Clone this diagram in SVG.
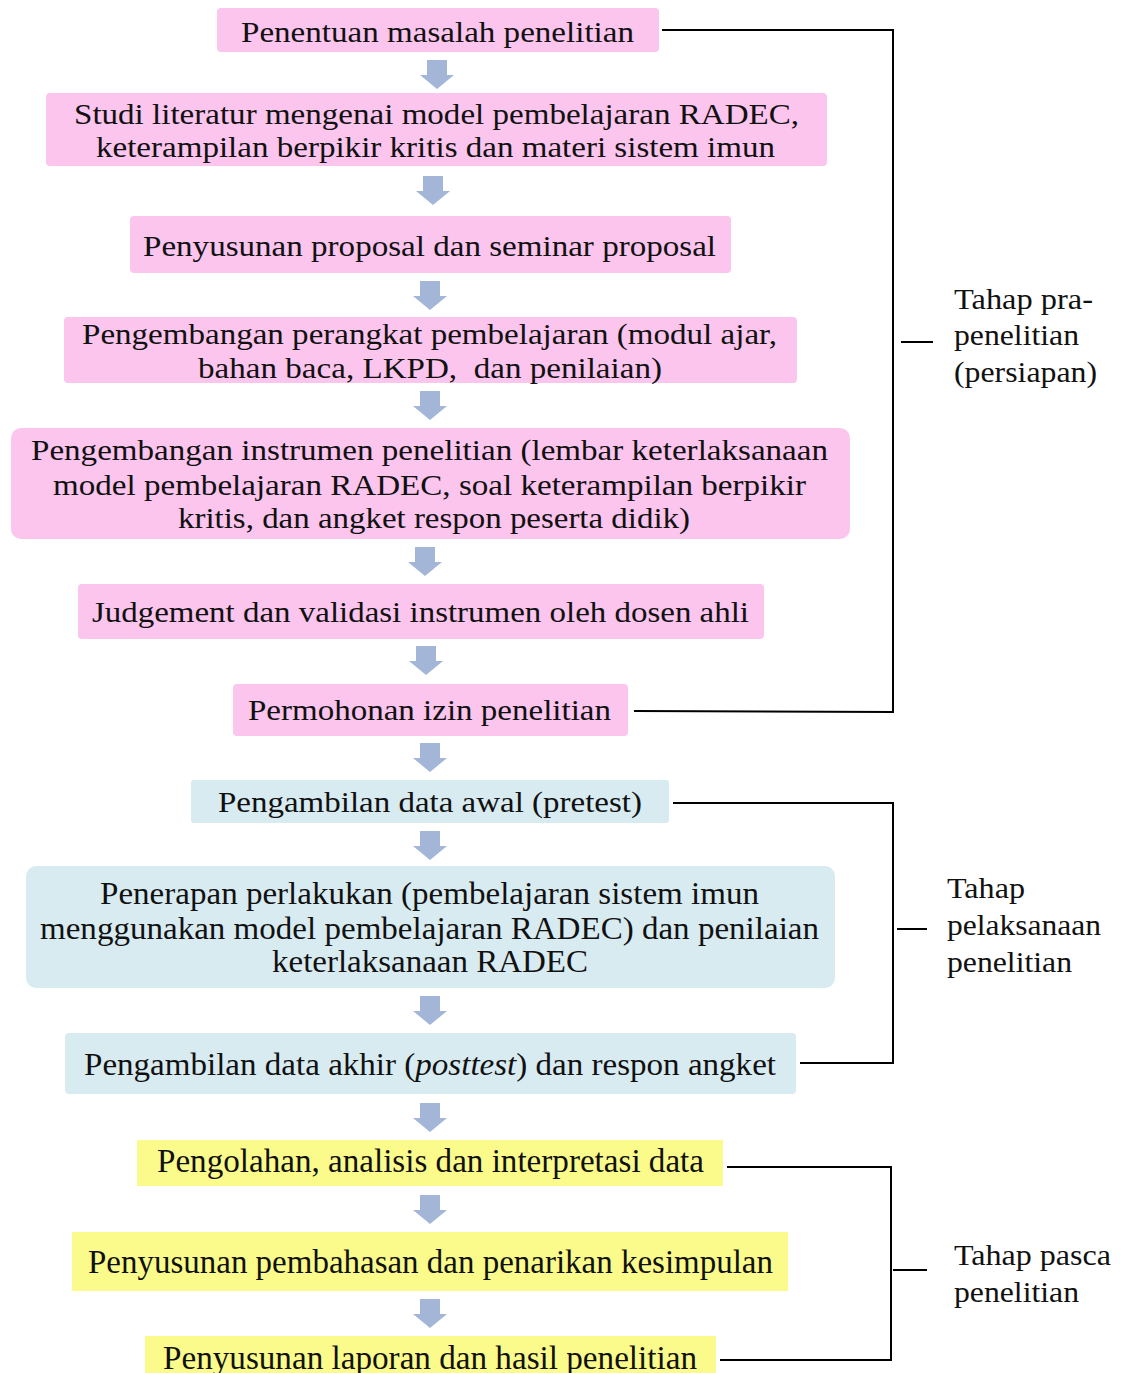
<svg xmlns="http://www.w3.org/2000/svg" width="1124" height="1373" viewBox="0 0 1124 1373">
<style>
.t{font-family:'Liberation Serif',serif;font-size:30px;fill:#111;text-anchor:middle}
.t2{font-size:32px}
.t3{font-size:33px}
.l{font-family:'Liberation Serif',serif;font-size:30px;fill:#111}
.pk{fill:#fbc5ee}
.bl{fill:#d8ebf1}
.yl{fill:#fbfb8c}
.br{fill:none;stroke:#000;stroke-width:2}
.ar{fill:#a3b6d7}
</style>
<defs>
<path id="arr" d="M-10,0 H10 V15 H17 L0,29 L-17,15 H-10 Z"/>
</defs>
<rect width="1124" height="1373" fill="#fff"/>
<g id="n1"><rect class="pk" x="217" y="8" width="442" height="44" rx="4"/><text class="t" x="437.5" y="42" textLength="393" lengthAdjust="spacingAndGlyphs">Penentuan masalah penelitian</text></g>
<g id="n2"><rect class="pk" x="46" y="93" width="781" height="73" rx="4"/><text class="t" x="436.5" y="124" textLength="725" lengthAdjust="spacingAndGlyphs">Studi literatur mengenai model pembelajaran RADEC,</text><text class="t" x="435.5" y="157" textLength="679" lengthAdjust="spacingAndGlyphs">keterampilan berpikir kritis dan materi sistem imun</text></g>
<g id="n3"><rect class="pk" x="130" y="216" width="601" height="57" rx="4"/><text class="t" x="429.5" y="256" textLength="573" lengthAdjust="spacingAndGlyphs">Penyusunan proposal dan seminar proposal</text></g>
<g id="n4"><rect class="pk" x="64" y="317" width="733" height="66" rx="4"/><text class="t" x="429.5" y="344" textLength="695" lengthAdjust="spacingAndGlyphs">Pengembangan perangkat pembelajaran (modul ajar,</text><text class="t" x="430" y="378" textLength="464" lengthAdjust="spacingAndGlyphs" xml:space="preserve">bahan baca, LKPD,  dan penilaian)</text></g>
<g id="n5"><rect class="pk" x="11" y="428" width="839" height="111" rx="10"/><text class="t" x="429.5" y="460" textLength="797" lengthAdjust="spacingAndGlyphs">Pengembangan instrumen penelitian (lembar keterlaksanaan</text><text class="t" x="429.5" y="495" textLength="753" lengthAdjust="spacingAndGlyphs">model pembelajaran RADEC, soal keterampilan berpikir</text><text class="t" x="434" y="528" textLength="512" lengthAdjust="spacingAndGlyphs">kritis, dan angket respon peserta didik)</text></g>
<g id="n6"><rect class="pk" x="78" y="584" width="686" height="55" rx="4"/><text class="t" x="420.5" y="622" textLength="657" lengthAdjust="spacingAndGlyphs">Judgement dan validasi instrumen oleh dosen ahli</text></g>
<g id="n7"><rect class="pk" x="233" y="684" width="395" height="52" rx="4"/><text class="t" x="429.5" y="720" textLength="363" lengthAdjust="spacingAndGlyphs">Permohonan izin penelitian</text></g>
<g id="n8"><rect class="bl" x="191" y="780" width="478" height="43" rx="3"/><text class="t" x="430" y="812" textLength="424" lengthAdjust="spacingAndGlyphs">Pengambilan data awal (pretest)</text></g>
<g id="n9"><rect class="bl" x="26" y="866" width="809" height="122" rx="10"/><text class="t t2" x="429.5" y="904" textLength="659" lengthAdjust="spacingAndGlyphs">Penerapan perlakukan (pembelajaran sistem imun</text><text class="t t2" x="429.5" y="939" textLength="779" lengthAdjust="spacingAndGlyphs">menggunakan model pembelajaran RADEC) dan penilaian</text><text class="t t2" x="430" y="972" textLength="316" lengthAdjust="spacingAndGlyphs">keterlaksanaan RADEC</text></g>
<g id="n10"><rect class="bl" x="65" y="1033" width="731" height="61" rx="4"/><text class="t t2" x="430" y="1075" textLength="692" lengthAdjust="spacingAndGlyphs">Pengambilan data akhir (<tspan font-style="italic">posttest</tspan>) dan respon angket</text></g>
<g id="n11"><rect class="yl" x="137" y="1140" width="586" height="46"/><text class="t t3" x="430.5" y="1172" textLength="547" lengthAdjust="spacingAndGlyphs">Pengolahan, analisis dan interpretasi data</text></g>
<g id="n12"><rect class="yl" x="72" y="1232" width="716" height="59"/><text class="t t3" x="430.5" y="1273" textLength="685" lengthAdjust="spacingAndGlyphs">Penyusunan pembahasan dan penarikan kesimpulan</text></g>
<g id="n13"><rect class="yl" x="145" y="1336" width="571" height="40"/><text class="t t3" x="430" y="1369" textLength="534" lengthAdjust="spacingAndGlyphs">Penyusunan laporan dan hasil penelitian</text></g>
<g id="connectors">
<use href="#arr" class="ar" x="437" y="60"/>
<use href="#arr" class="ar" x="433" y="176"/>
<use href="#arr" class="ar" x="430" y="281"/>
<use href="#arr" class="ar" x="430" y="391"/>
<use href="#arr" class="ar" x="425" y="547"/>
<use href="#arr" class="ar" x="426" y="646"/>
<use href="#arr" class="ar" x="430" y="743"/>
<use href="#arr" class="ar" x="430" y="831"/>
<use href="#arr" class="ar" x="430" y="996"/>
<use href="#arr" class="ar" x="430" y="1103"/>
<use href="#arr" class="ar" x="430" y="1195"/>
<use href="#arr" class="ar" x="430" y="1299"/>
<polyline class="br" points="662,30 893,30 893,712 634,711"/>
<line class="br" x1="901" y1="342" x2="933" y2="342"/>
<polyline class="br" points="673,803 893,803 893,1063 800,1063"/>
<line class="br" x1="897" y1="929" x2="927" y2="929"/>
<polyline class="br" points="727,1167 891,1167 891,1360 720,1360"/>
<line class="br" x1="893" y1="1270" x2="927" y2="1270"/>
</g>
<g id="labels">
<text class="l" x="954" y="309" textLength="139" lengthAdjust="spacingAndGlyphs">Tahap pra-</text>
<text class="l" x="954" y="345" textLength="125" lengthAdjust="spacingAndGlyphs">penelitian</text>
<text class="l" x="954" y="382" textLength="143" lengthAdjust="spacingAndGlyphs">(persiapan)</text>
<text class="l" x="947" y="898" textLength="78" lengthAdjust="spacingAndGlyphs">Tahap</text>
<text class="l" x="947" y="935" textLength="154" lengthAdjust="spacingAndGlyphs">pelaksanaan</text>
<text class="l" x="947" y="972" textLength="125" lengthAdjust="spacingAndGlyphs">penelitian</text>
<text class="l t3" x="954" y="1265" textLength="157" lengthAdjust="spacingAndGlyphs">Tahap pasca</text>
<text class="l t3" x="954" y="1302" textLength="125" lengthAdjust="spacingAndGlyphs">penelitian</text>
</g>
</svg>
